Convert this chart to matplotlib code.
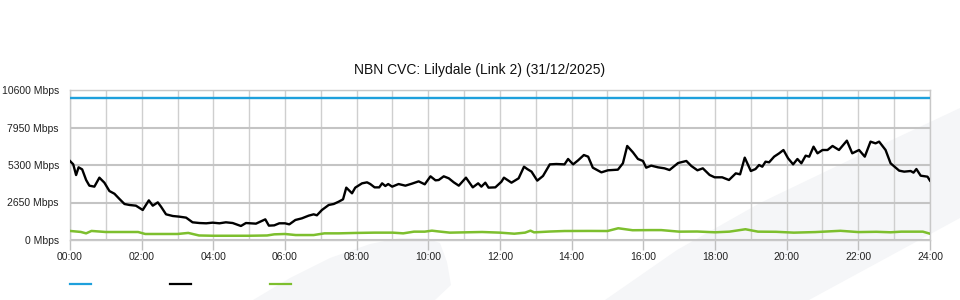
import matplotlib.pyplot as plt
import numpy as np
from matplotlib.patches import Polygon
from matplotlib.ticker import MultipleLocator, FuncFormatter

plt.rcParams['font.family'] = ['Liberation Sans', 'DejaVu Sans']

title = "NBN CVC: Lilydale (Link 2) (31/12/2025)"

# link capacity (Mbps)
capacity = 10000

# total traffic, hour of day -> Mbps
traffic_hours = [0.0, 0.09, 0.17, 0.24, 0.34, 0.45, 0.54, 0.68, 0.82, 0.96,
                 1.10, 1.24, 1.38, 1.52, 1.66, 1.84, 2.03, 2.20, 2.31, 2.45,
                 2.54, 2.68, 2.87, 3.05, 3.24, 3.42, 3.61, 3.80, 3.98, 4.17,
                 4.35, 4.54, 4.77, 4.91, 5.19, 5.45, 5.55, 5.70, 5.84, 6.00,
                 6.12, 6.29, 6.47, 6.66, 6.80, 6.89, 7.03, 7.22, 7.36, 7.50,
                 7.62, 7.71, 7.87, 7.96, 8.15, 8.29, 8.38, 8.50, 8.63, 8.71,
                 8.80, 8.88, 8.99, 9.17, 9.36, 9.54, 9.73, 9.90, 10.06, 10.20,
                 10.29, 10.43, 10.57, 10.71, 10.85, 11.05, 11.24, 11.39, 11.48, 11.59,
                 11.68, 11.87, 12.04, 12.11, 12.32, 12.52, 12.67, 12.76, 12.88, 13.04,
                 13.20, 13.39, 13.57, 13.80, 13.90, 14.04, 14.18, 14.34, 14.46, 14.59,
                 14.83, 15.01, 15.29, 15.43, 15.55, 15.71, 15.85, 15.99, 16.08, 16.22,
                 16.41, 16.59, 16.73, 16.97, 17.20, 17.34, 17.51, 17.66, 17.85, 17.99,
                 18.20, 18.39, 18.58, 18.70, 18.83, 19.00, 19.13, 19.23, 19.32, 19.41,
                 19.51, 19.65, 19.79, 19.91, 20.04, 20.18, 20.30, 20.41, 20.53, 20.63,
                 20.75, 20.86, 21.00, 21.14, 21.28, 21.46, 21.68, 21.83, 22.02, 22.18,
                 22.34, 22.48, 22.58, 22.76, 22.90, 23.14, 23.28, 23.46, 23.54, 23.62,
                 23.74, 23.93, 24.00]
traffic_mbps = [5580, 5350, 4590, 5135, 4990, 4240, 3840, 3770, 4405, 4050,
                3460, 3270, 2900, 2545, 2475, 2425, 2120, 2800, 2425, 2660,
                2355, 1815, 1695, 1650, 1580, 1250, 1200, 1180, 1225, 1180,
                1250, 1200, 990, 1200, 1155, 1460, 1015, 1035, 1180, 1180,
                1105, 1415, 1530, 1720, 1815, 1745, 2120, 2475, 2545, 2710,
                2875, 3700, 3300, 3700, 4005, 4075, 3955, 3720, 3720, 4005,
                3815, 3955, 3770, 3955, 3840, 3980, 4145, 3935, 4500, 4215,
                4240, 4500, 4360, 4075, 3840, 4405, 3720, 4005, 3770, 4050,
                3700, 3720, 4120, 4405, 4050, 4360, 5180, 5015, 4830, 4195,
                4525, 5345, 5370, 5345, 5725, 5345, 5630, 6005, 5890, 5110,
                4780, 4925, 4970, 5420, 6645, 6195, 5725, 5585, 5110, 5255,
                5135, 5065, 4945, 5440, 5585, 5230, 4925, 5065, 4595, 4430,
                4430, 4240, 4710, 4640, 5820, 4875, 5015, 5300, 5180, 5535,
                5490, 5890, 6125, 6360, 5770, 5345, 5725, 5420, 5960, 5890,
                6595, 6125, 6360, 6360, 6645, 6360, 7020, 6125, 6360, 5890,
                6950, 6830, 6950, 6360, 5420, 4900, 4830, 4875, 4760, 5015,
                4545, 4475, 4195]

# second series, hour of day -> Mbps
low_hours = [0.0, 0.3, 0.45, 0.6, 1.0, 1.5, 1.9, 2.1, 2.6, 3.0,
             3.3, 3.6, 4.0, 4.5, 5.0, 5.5, 5.7, 6.0, 6.3, 6.8,
             7.1, 7.5, 8.0, 8.5, 9.0, 9.3, 9.6, 9.9, 10.1, 10.3,
             10.6, 11.0, 11.5, 12.0, 12.4, 12.7, 12.85, 12.95, 13.4, 13.8,
             14.5, 15.0, 15.3, 15.7, 16.2, 16.5, 17.0, 17.5, 18.0, 18.4,
             18.85, 19.2, 19.7, 20.2, 20.8, 21.5, 22.0, 22.5, 22.9, 23.2,
             23.8, 24.0]
low_mbps = [640, 570, 470, 640, 565, 565, 565, 425, 425, 425,
            500, 320, 300, 300, 300, 320, 400, 425, 350, 350,
            470, 470, 500, 520, 520, 470, 590, 590, 660, 600,
            520, 540, 565, 520, 445, 520, 660, 540, 600, 635,
            640, 635, 830, 690, 700, 700, 590, 600, 545, 590,
            760, 590, 580, 520, 560, 650, 560, 580, 545, 590,
            590, 445]

fig = plt.figure(figsize=(9.6, 3.0), dpi=100)
fig.patch.set_facecolor('white')

# faint watermark swooshes behind the chart
W, H = 960.0, 300.0
swoosh1 = [(253, 300), (290, 278), (330, 258), (370, 244), (400, 238), (425, 238),
           (440, 243), (447, 262), (451, 285), (435, 300)]
swoosh2 = [(605, 300), (677, 250), (760, 203), (860, 155), (960, 108), (960, 218), (809, 300)]
for pts in (swoosh1, swoosh2):
    fig.patches.append(Polygon([(x / W, 1 - y / H) for x, y in pts], closed=True,
                               transform=fig.transFigure, facecolor='#f5f6f8',
                               edgecolor='none', zorder=-5))

ax = fig.add_axes([70 / W, 60 / H, 860 / W, 150 / H])
ax.set_zorder(2)
ax.set_facecolor('none')

ax.plot([0, 24], [capacity, capacity], color='#1ea0dc', lw=1.7, zorder=3)
ax.plot(traffic_hours, traffic_mbps, color='black', lw=1.7, zorder=4)
ax.plot(low_hours, low_mbps, color='#7dbf2e', lw=1.8, zorder=3)

ax.set_xlim(0, 24)
ax.set_ylim(0, 10600)
ax.set_yticks([0, 2650, 5300, 7950, 10600])
ax.yaxis.set_major_formatter(FuncFormatter(lambda v, p: "%d Mbps" % v))
ax.xaxis.set_major_locator(MultipleLocator(2))
ax.xaxis.set_minor_locator(MultipleLocator(1))
ax.xaxis.set_major_formatter(FuncFormatter(lambda v, p: "%02d:00" % v))

ax.grid(axis='y', color='#c4c4c4', lw=1.5, zorder=1)
ax.grid(axis='x', which='both', color='#cfcfcf', lw=1.0, zorder=1)
ax.set_axisbelow(True)

for s in ax.spines.values():
    s.set_color('#c8c8c8')
    s.set_linewidth(1.0)

ax.tick_params(axis='y', length=0, pad=8, labelsize=7.5, labelcolor='#222222')
ax.tick_params(axis='x', which='major', length=7, width=1, color='#c0c0c0',
               pad=1.5, labelsize=7.5, labelcolor='#222222')
ax.tick_params(axis='x', which='minor', length=0)

fig.text(0.5, 1 - 70 / H, title, ha='center', va='center', fontsize=10, color='#111111')

# legend keys without labels
h1, = ax.plot([], [], color='#1ea0dc', lw=1.6)
h2, = ax.plot([], [], color='black', lw=1.6)
h3, = ax.plot([], [], color='#7dbf2e', lw=1.6)
fig.legend([h1, h2, h3], ['', '', ''], loc='center left', ncol=3,
           bbox_to_anchor=(70 / W, 1 - 285 / H), frameon=False, fontsize=7.5,
           handlelength=2.0, handletextpad=0.0, columnspacing=7.6,
           borderpad=0, borderaxespad=0)

fig.savefig('out.png', dpi=100, facecolor='white')
